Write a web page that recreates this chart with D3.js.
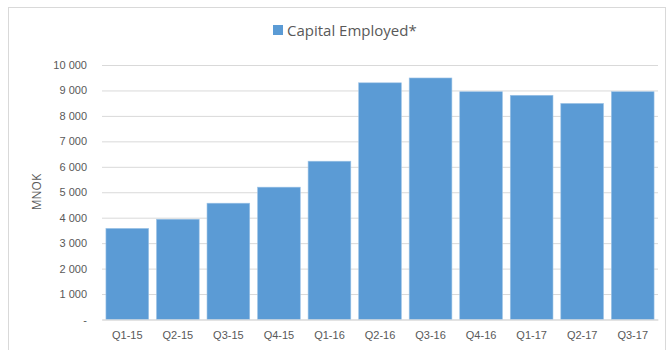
<!DOCTYPE html>
<html><head><meta charset="utf-8">
<script src="https://cdn.jsdelivr.net/npm/d3@7"></script>
<style>body{margin:0;background:#fff;}svg{display:block;font-family:"Open Sans",sans-serif;}</style>
</head><body>
<script>
const categories = ["Q1-15","Q2-15","Q3-15","Q4-15","Q1-16","Q2-16","Q3-16","Q4-16","Q1-17","Q2-17","Q3-17"];
const capitalEmployed = [3580, 3940, 4570, 5200, 6220, 9300, 9490, 8950, 8810, 8490, 8950];
const yTicks = [0,1000,2000,3000,4000,5000,6000,7000,8000,9000,10000];
const seriesName = "Capital Employed*";
const yTitle = "MNOK";

const W = 669, H = 350;
const svg = d3.select("body").append("svg").attr("width", W).attr("height", H);
svg.append("rect").attr("x",8.5).attr("y",7.5).attr("width",657).attr("height",345).attr("fill","#fff").attr("stroke","#d9d9d9");

const x = d3.scaleBand().domain(categories).range([102, 658]).paddingInner(0.155).paddingOuter(0.078);
const y = d3.scaleLinear().domain([0, 10000]).range([319.5, 65]);

const fmt = v => v === 0 ? "-" : d3.format(",")(v).replace(/,/g, " ");

const yAxis = svg.append("g").attr("transform","translate(102,0)")
  .call(d3.axisLeft(y).tickValues(yTicks).tickSize(-556).tickFormat(fmt).tickPadding(15));
yAxis.select(".domain").remove();
yAxis.selectAll(".tick line").attr("stroke","#d9d9d9");
yAxis.selectAll(".tick text").attr("fill","#595959").style("font-size","11px");

svg.append("g").selectAll("rect").data(categories).join("rect")
  .attr("x", d => x(d)).attr("width", x.bandwidth())
  .attr("y", (d,i) => y(capitalEmployed[i]))
  .attr("height", (d,i) => y(0) - y(capitalEmployed[i]))
  .attr("fill", "#5b9bd5").attr("stroke","#9dc3e6").attr("stroke-width",0.6);

const xAxis = svg.append("g").attr("transform",`translate(0,${y(0)})`)
  .call(d3.axisBottom(x).tickSize(0).tickPadding(12));
xAxis.select(".domain").attr("stroke","#d9d9d9");
xAxis.selectAll(".tick text").attr("fill","#595959").style("font-size","11px");

svg.append("text").attr("transform","translate(41,192) rotate(-90)")
  .attr("text-anchor","middle").attr("fill","#595959").style("font-size","12px").text(yTitle);

const leg = svg.append("g");
leg.append("rect").attr("x",273).attr("y",25).attr("width",10).attr("height",10).attr("fill","#5b9bd5");
leg.append("text").attr("x",287).attr("y",35.5).attr("fill","#595959").style("font-size","15px").text(seriesName);
</script>
</body></html>
